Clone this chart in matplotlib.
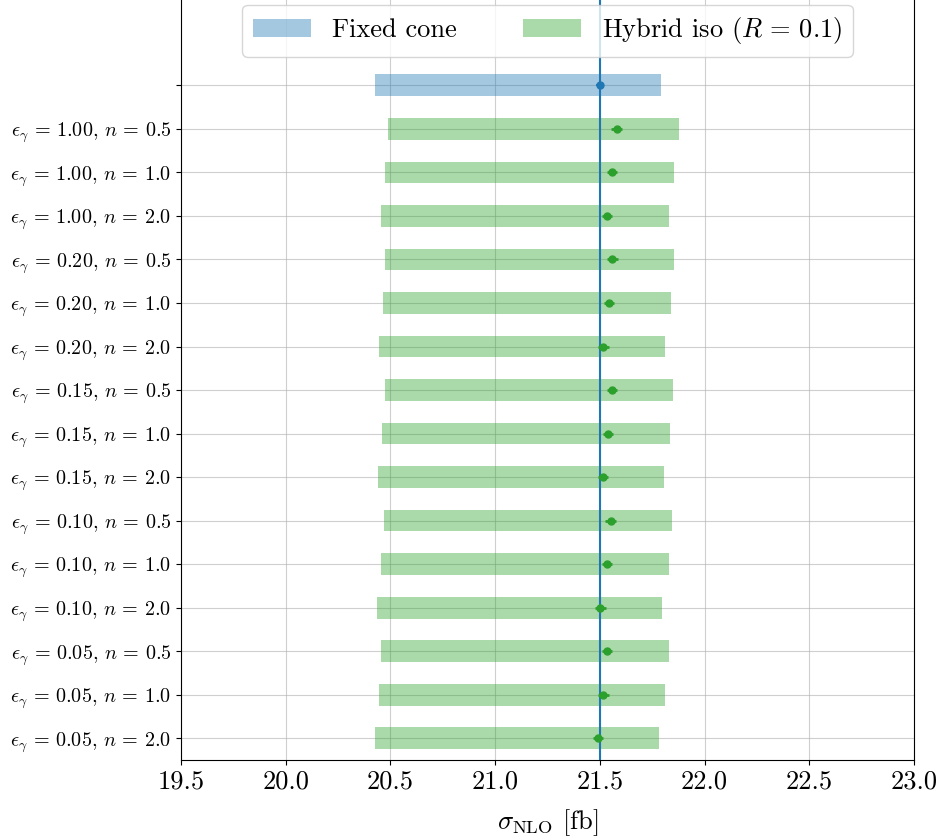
import matplotlib
matplotlib.use("Agg")
import matplotlib.pyplot as plt
import numpy as np

plt.rcParams['mathtext.fontset'] = 'cm'
plt.rcParams['font.family'] = 'serif'
plt.rcParams['font.serif'] = ['cmr10', 'DejaVu Serif']
plt.rcParams['axes.formatter.use_mathtext'] = True
plt.rcParams['axes.unicode_minus'] = False

# rows from top to bottom (hybrid iso)
eps_vals = ["1.00", "1.00", "1.00", "0.20", "0.20", "0.20", "0.15", "0.15", "0.15",
            "0.10", "0.10", "0.10", "0.05", "0.05", "0.05"]
n_vals = ["0.5", "1.0", "2.0"] * 5

hyb_low = [20.487, 20.473, 20.457, 20.475, 20.463, 20.444, 20.473, 20.458, 20.441,
           20.468, 20.454, 20.434, 20.455, 20.444, 20.425]
hyb_high = [21.877, 21.853, 21.832, 21.856, 21.838, 21.810, 21.851, 21.835, 21.807,
            21.846, 21.829, 21.799, 21.831, 21.810, 21.783]
hyb_central = [21.580, 21.557, 21.535, 21.560, 21.543, 21.517, 21.557, 21.540, 21.514,
               21.551, 21.534, 21.503, 21.535, 21.517, 21.490]
hyb_err = [0.025] * 15

fixed_low = 20.428
fixed_high = 21.794
fixed_central = 21.5
fixed_err = 0.02

fig = plt.figure(figsize=(9.43, 8.38), dpi=100)
ax = fig.add_axes([181 / 943, 1 - 760 / 838, (914 - 181) / 943, 760 / 838 + 0.002])

n = len(eps_vals)
ypos = np.arange(n)[::-1]  # top row at n-1
y_fixed = n

c0 = '#1f77b4'
c2 = '#2ca02c'

ax.grid(True, color='#b0b0b0', alpha=0.6, linewidth=0.8, zorder=0)
ax.set_axisbelow(True)

ax.barh(y_fixed, fixed_high - fixed_low, left=fixed_low, height=0.5,
        color=c0, alpha=0.4, label='Fixed cone', zorder=2)
ax.errorbar(fixed_central, y_fixed, xerr=fixed_err, fmt='o', color=c0,
            markersize=5, zorder=4)

ax.barh(ypos, np.array(hyb_high) - np.array(hyb_low), left=hyb_low, height=0.5,
        color=c2, alpha=0.4, label=r'Hybrid iso ($R\,=\,0.1$)', zorder=2)
ax.errorbar(hyb_central, ypos, xerr=hyb_err, fmt='o', color=c2,
            markersize=5, elinewidth=2, zorder=4)

ax.axvline(fixed_central, color=c0, linewidth=1.5, zorder=3)

labels = [r'$\epsilon_\gamma\,=\,%s$, $n\,=\,%s$' % (e, m) for e, m in zip(eps_vals, n_vals)]
ax.set_yticks(list(ypos) + [y_fixed])
ax.set_yticklabels(labels + [''], fontsize=14.5)

ax.set_xlim(19.5, 23.0)
ax.set_xticks([19.5, 20.0, 20.5, 21.0, 21.5, 22.0, 22.5, 23.0])
ax.set_xticklabels(['19.5', '20.0', '20.5', '21.0', '21.5', '22.0', '22.5', '23.0'], fontsize=19)
ax.set_ylim(-0.5, 17.0)
ax.set_xlabel(r'$\sigma_{\rm NLO}$ [fb]', fontsize=19, labelpad=10)

ax.legend(loc='upper center', ncol=2, fontsize=19, bbox_to_anchor=(0.5, 1.0 + 7 / 762),
          handlelength=2.2, columnspacing=2.5)

fig.savefig('out.png', dpi=100)
